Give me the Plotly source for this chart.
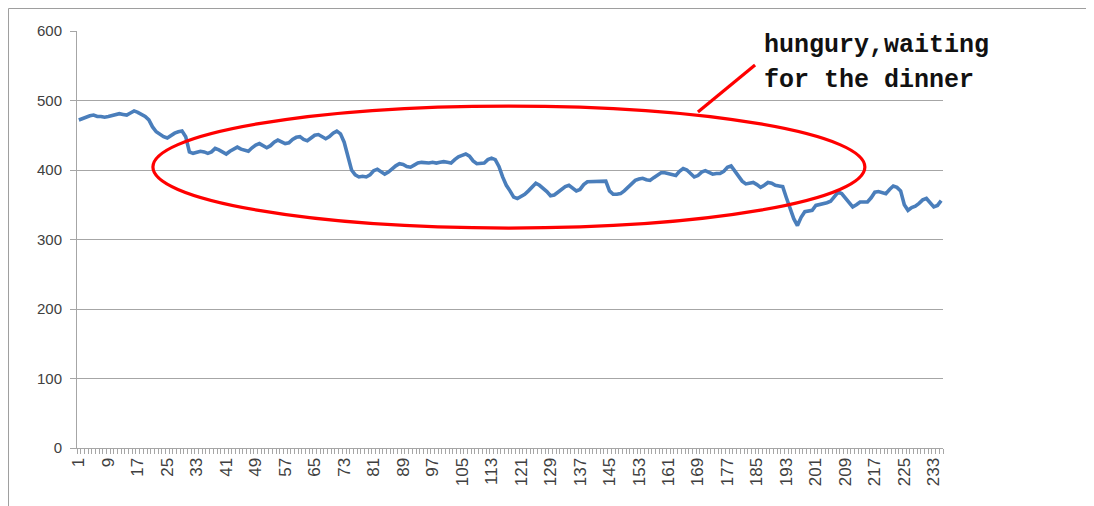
import plotly.graph_objects as go

categories = list(range(1, 236))
values = [
    472, 474, 477, 478, 479, 477, 477, 476, 477, 478,
    480, 481, 480, 479, 482, 485, 483, 480, 477, 472,
    462, 455, 451, 448, 446, 450, 453, 455, 456, 448,
    426, 424, 425, 427, 426, 424, 426, 431, 429, 426,
    423, 427, 430, 433, 430, 428, 427, 432, 436, 438,
    435, 432, 435, 440, 443, 441, 438, 439, 444, 447,
    448, 444, 442, 446, 450, 451, 448, 445, 448, 453,
    456, 452, 440, 418, 400, 393, 390, 391, 390, 393,
    399, 401, 398, 394, 397, 402, 406, 409, 408, 405,
    404, 407, 410, 411, 410, 410, 411, 410, 411, 412,
    411, 410, 415, 419, 421, 423, 420, 413, 409, 409,
    410, 415, 417, 415, 405, 390, 378, 370, 361, 359,
    362, 365, 370, 376, 381, 378, 374, 369, 363, 364,
    368, 372, 376, 378, 374, 370, 372, 379, 383, 383,
    383, 383, 383, 384, 370, 365, 365, 366, 370, 375,
    380, 385, 387, 388, 386, 385, 389, 393, 396, 396,
    395, 393, 392, 398, 402, 400, 395, 390, 392, 397,
    399, 396, 394, 395, 395, 398, 404, 406, 398, 390,
    384, 380, 381, 382, 379, 375, 378, 382, 381, 378,
    377, 376, 360, 345, 330, 320, 332, 340, 341, 342,
    349, 350, 352, 353, 355, 362, 368, 366, 359, 352,
    347, 350, 354, 354, 354, 360, 368, 369, 367, 366,
    372, 377, 375, 370, 350, 342, 346, 348, 352, 357,
    359, 352, 347, 349, 356,
]
x_tick_labels = [str(c) for c in categories[::8]]
y_ticks = [0, 100, 200, 300, 400, 500, 600]
note_lines = ["hungury,waiting", "for the dinner"]

# annotation ellipse / pointer in data units
ellipse_x = [21.1, 214.3]
ellipse_y = [316.5, 492]
pointer_x = [169.0, 184.5]
pointer_y = [483.5, 551]

fig = go.Figure()
fig.add_trace(go.Scatter(
    x=categories, y=values, mode="lines",
    line=dict(color="#4A7EBB", width=3.6),
    hoverinfo="skip", showlegend=False,
))

grid_c = "#A6A6A6"
L, R, T, B = 69, 151, 23, 58
W, H = 1086, 498
pw, ph = W - L - R, H - T - B

fig.update_layout(
    width=W, height=H,
    margin=dict(l=L, r=R, t=T, b=B),
    paper_bgcolor="white", plot_bgcolor="white",
    font=dict(family="Liberation Sans, Arial, sans-serif", size=14, color="#404040"),
    xaxis=dict(
        range=[0.5, len(categories) + 0.5],
        tickmode="array", tickvals=categories[::8], ticktext=x_tick_labels,
        tickangle=-90, ticks="", ticklen=0,
        showgrid=False, zeroline=False,
        showline=True, linecolor=grid_c, linewidth=1,
        tickfont=dict(size=17, color="#404040"),
        ticklabelstandoff=2,
        minor=dict(tickmode="array",
                   tickvals=[c - 0.5 for c in categories] + [len(categories) + 0.5],
                   ticks="outside", ticklen=5, tickcolor=grid_c, tickwidth=1,
                   showgrid=False),
        fixedrange=True,
    ),
    yaxis=dict(
        range=[0, 600], tickvals=y_ticks,
        ticks="outside", ticklen=6, tickcolor=grid_c,
        showgrid=True, gridcolor=grid_c, gridwidth=1,
        zeroline=False, showline=True, linecolor=grid_c, linewidth=1,
        tickfont=dict(size=15, color="#404040"),
        ticklabelstandoff=5,
        fixedrange=True,
    ),
)

fig.add_shape(type="circle", xref="x", yref="y",
              x0=ellipse_x[0], x1=ellipse_x[1], y0=ellipse_y[0], y1=ellipse_y[1],
              line=dict(color="#FF0000", width=3.2))
fig.add_shape(type="line", xref="x", yref="y",
              x0=pointer_x[0], x1=pointer_x[1], y0=pointer_y[0], y1=pointer_y[1],
              line=dict(color="#FF0000", width=3.2))

# outer frame
fig.add_shape(type="rect", xref="paper", yref="paper",
              x0=-L / pw + 0.0006, x1=(1080 - L) / pw, y0=-0.3, y1=1 + (T - 0.5) / ph,
              line=dict(color="#9E9E9E", width=1))

for t, ypix in zip(note_lines, [45 - 8, 80 - 8]):
    fig.add_annotation(text="<b>" + t + "</b>", xref="paper", yref="paper",
                       x=(762 - 8 - L) / pw, y=1 - (ypix - T) / ph,
                       xanchor="left", yanchor="middle", showarrow=False,
                       font=dict(family="Liberation Mono, DejaVu Sans Mono, monospace",
                                 size=25, color="#111111"))

fig.write_html("out.html")
